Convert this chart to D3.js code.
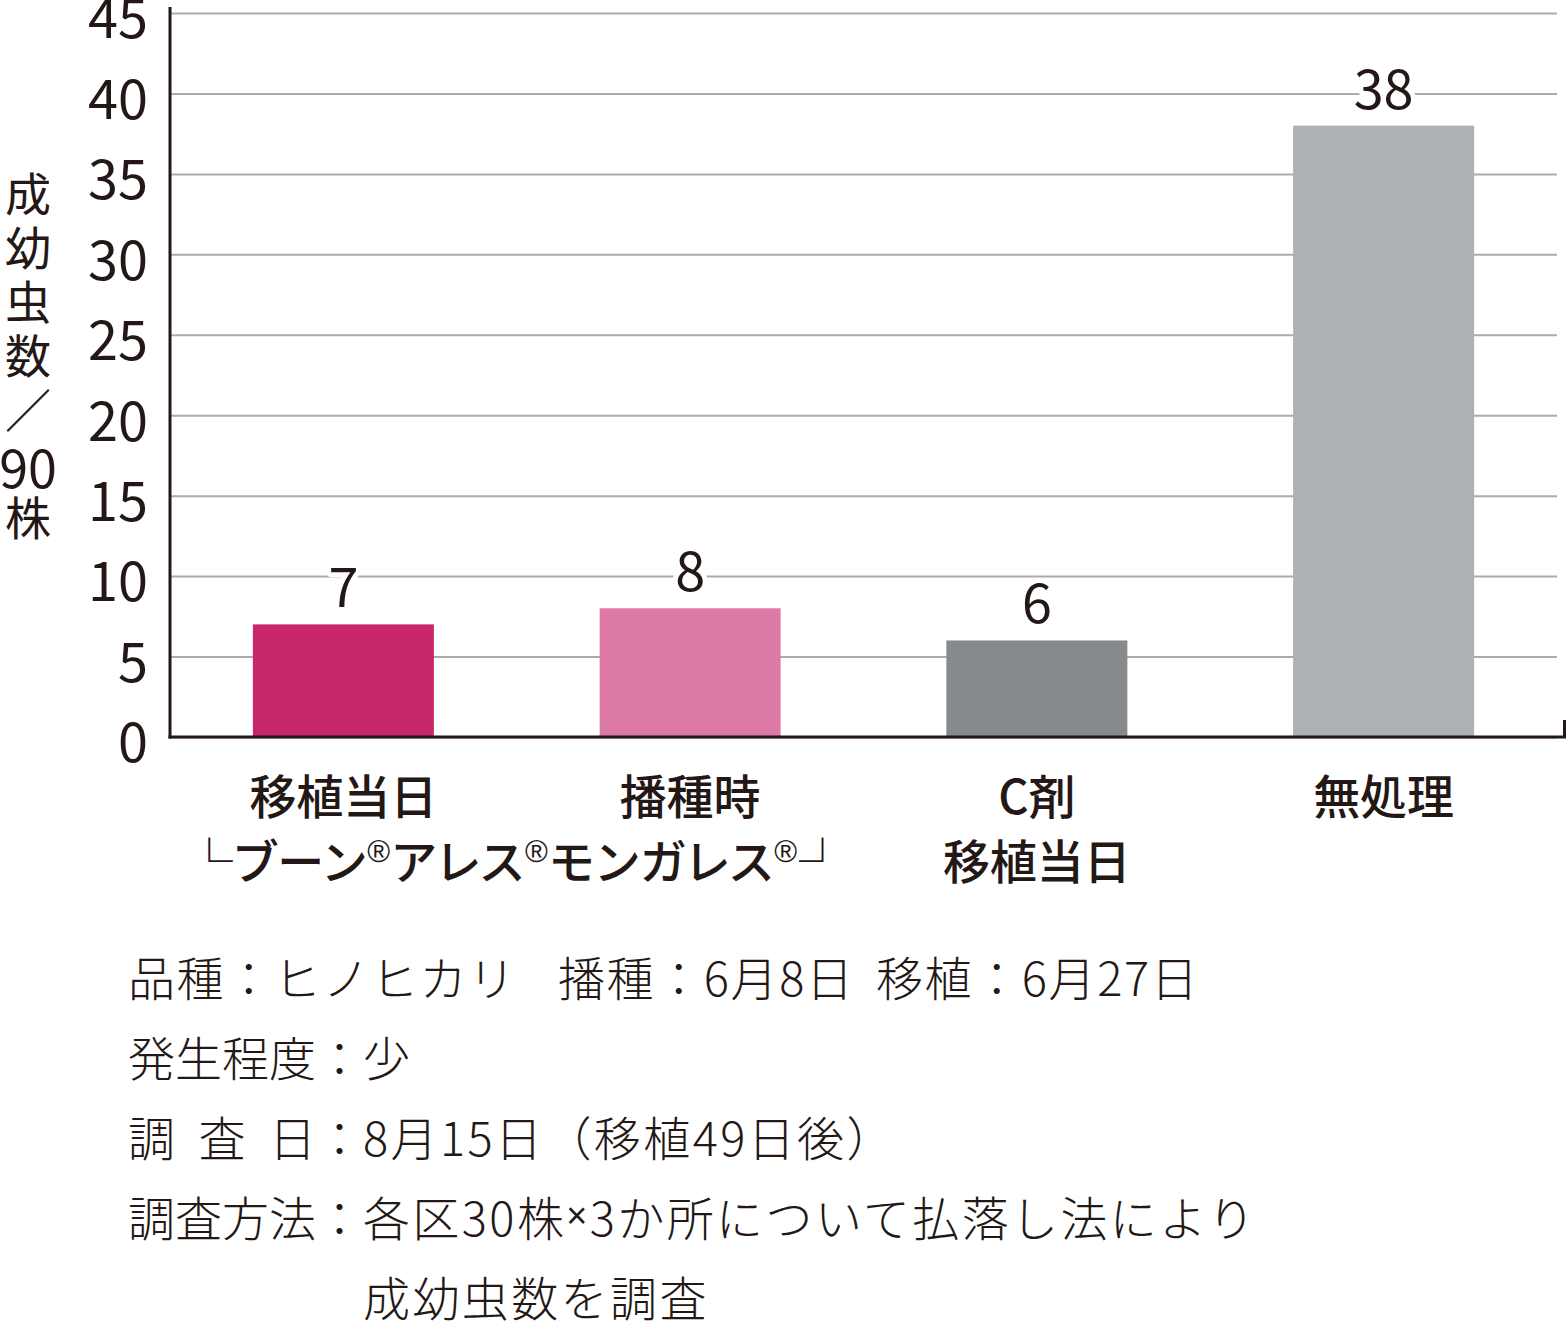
<!DOCTYPE html>
<html>
<head>
<meta charset="utf-8">
<script src="https://cdn.jsdelivr.net/npm/d3@7"></script>
<style>
  html, body { margin: 0; padding: 0; background: #ffffff; }
  svg { display: block; }
  text { font-family: "Noto Sans CJK JP", "Noto Sans", sans-serif; fill: #231815; }
</style>
</head>
<body>
<svg id="chart" width="1568" height="1321"></svg>
<script>
// ---- data ----
const categories = ["移植当日", "播種時", "C剤", "無処理"];
const categoryLines = [["移植当日"], ["播種時"], ["C剤", "移植当日"], ["無処理"]];
const values = [7, 8, 6, 38];
const barColors = ["#c8266b", "#dc7aa5", "#878a8d", "#adb0b4"];
const yTicks = [0, 5, 10, 15, 20, 25, 30, 35, 40, 45];
const yTitleChars = ["成", "幼", "虫", "数", "／", "90", "株"];
const productParts = ["└", "ブーン", "®", "アレス", "®", "モンガレス", "®", "┘"];
const noteLine1 = ["品種：ヒノヒカリ", "播種：6月8日", "移植：6月27日"];
const noteLabels = ["発生程度", "調 査 日", "調査方法", ""];
const noteValues = ["少", "8月15日（移植49日後）", "各区30株×3か所について払落し法により", "成幼虫数を調査"];

(function () {
// ---- layout ----
const svg = d3.select("#chart");
const L = 170, R = 1557, T = 13, B = 737;
const ink = "#231815";
const off = -4; // central-baseline correction

const x = d3.scaleBand().domain(categories).range([L, R]).paddingInner(0.478).paddingOuter(0.239);
const y = d3.scaleLinear().domain([0, 45]).range([B, T]);

// gridlines + tick labels
const yAxis = d3.axisLeft(y).tickValues(yTicks).tickSize(-(R - L)).tickPadding(22).tickFormat(d3.format("d"));
const gy = svg.append("g").attr("transform", `translate(${L},0)`).call(yAxis);
gy.select(".domain").remove();
gy.selectAll(".tick line").attr("stroke", "#ababab").attr("stroke-width", 2);
gy.selectAll(".tick text")
  .attr("dy", "0.46em")
  .style("font-family", "'Noto Sans CJK JP', sans-serif")
  .style("font-size", "54px")
  .attr("fill", ink);

// bars
svg.append("g").selectAll("rect").data(values).join("rect")
  .attr("x", (d, i) => x(categories[i]))
  .attr("width", x.bandwidth())
  .attr("y", d => y(d))
  .attr("height", d => y(0) - y(d))
  .attr("fill", (d, i) => barColors[i]);

// axis lines
svg.append("line").attr("x1", L).attr("x2", L).attr("y1", 7).attr("y2", B + 1.5)
  .attr("stroke", ink).attr("stroke-width", 3);
svg.append("line").attr("x1", L - 1.5).attr("x2", 1566).attr("y1", B).attr("y2", B)
  .attr("stroke", ink).attr("stroke-width", 3);
svg.append("line").attr("x1", 1564.5).attr("x2", 1564.5).attr("y1", 720).attr("y2", B)
  .attr("stroke", ink).attr("stroke-width", 3);

// value labels
svg.append("g").selectAll("text").data(values).join("text")
  .attr("x", (d, i) => x(categories[i]) + x.bandwidth() / 2)
  .attr("y", d => y(d) - 17)
  .attr("text-anchor", "middle")
  .style("font-size", "54px")
  .attr("stroke", "#ffffff").attr("stroke-width", 10).attr("paint-order", "stroke")
  .attr("stroke-linejoin", "round")
  .text(d => d);

// category labels
const catG = svg.append("g");
categoryLines.forEach((lines, i) => {
  lines.forEach((ln, j) => {
    catG.append("text")
      .attr("x", x(categories[i]) + x.bandwidth() / 2)
      .attr("y", 797 + off + j * 65)
      .attr("text-anchor", "middle")
      .attr("dominant-baseline", "central")
      .style("font-size", "47px")
      .style("font-weight", 500)
      .text(ln);
  });
});
// product name line spanning first two categories
const prodX = (x(categories[0]) + x(categories[1]) + x.bandwidth()) / 2;
const prod = catG.append("text")
  .attr("x", prodX).attr("y", 862 + off)
  .attr("text-anchor", "middle")
  .attr("dominant-baseline", "central")
  .style("font-size", "47px")
  .style("font-weight", 500)
  .style("letter-spacing", "1.9px")
  .style("font-feature-settings", "'palt'");
let prevSup = false;
productParts.forEach(p => {
  const t = prod.append("tspan").text(p);
  if (p === "®") {
    t.style("font-family", "'Liberation Sans', Arial, sans-serif").style("font-size", "31px")
     .style("font-weight", 400).attr("dy", -7);
    prevSup = true;
  } else if (prevSup) { t.attr("dy", 7); prevSup = false; }
});

// y-axis title (vertical) – one text, one tspan per character
const yt = svg.append("text").attr("text-anchor", "middle").attr("dominant-baseline", "central");
yTitleChars.forEach((c, i) => {
  yt.append("tspan")
    .attr("x", 28)
    .attr("y", 195 + off + i * 54 + (c === "90" ? 4 : 0))
    .style("font-size", c === "90" ? "52px" : "46px")
    .text(c);
});

// notes
const fs = 47, nx = 128;
const notes = svg.append("g").style("font-size", fs + "px").style("font-weight", 300);
const line1X = [nx, 558, 876];
noteLine1.forEach((s, i) => {
  notes.append("text").attr("x", line1X[i]).attr("y", 979 + off).attr("dominant-baseline", "central")
    .style("letter-spacing", "1.6px").text(s);
});
noteLabels.forEach((lab, i) => {
  const yy = 1059 + off + i * 80;
  if (lab) {
    notes.append("text").attr("x", nx).attr("y", yy).attr("dominant-baseline", "central")
      .attr("textLength", fs * 4).attr("lengthAdjust", "spacing").text(lab);
    notes.append("text").attr("x", nx + fs * 4).attr("y", yy).attr("dominant-baseline", "central").text("：");
  }
  const vt = notes.append("text").attr("x", nx + fs * 5).attr("y", yy).attr("dominant-baseline", "central")
    .style("letter-spacing", "2.4px");
  noteValues[i].split(/(×)/).forEach(part => {
    if (!part) return;
    const ts = vt.append("tspan").text(part);
    if (part === "×") ts.style("font-family", "'Liberation Sans', Arial, sans-serif").style("font-size", "36px");
  });
});
})();
</script>
</body>
</html>
